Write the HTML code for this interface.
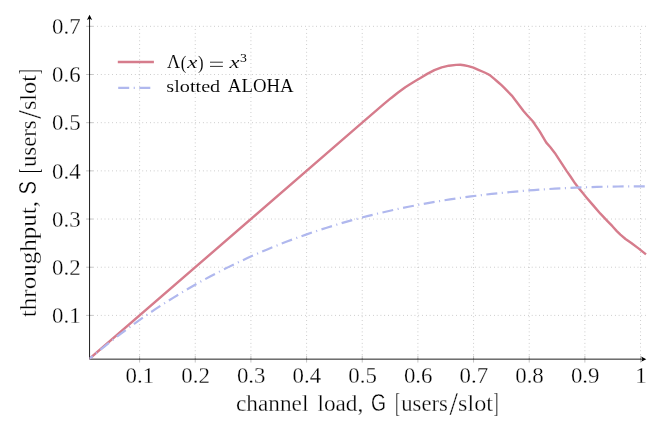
<!DOCTYPE html>
<html><head><meta charset="utf-8"><title>chart</title>
<style>html,body{margin:0;padding:0;background:#fff}svg{display:block;will-change:transform}text{font-kerning:none;stroke:#fff;stroke-width:0.28px;font-family:"Liberation Serif",serif;fill:#000}.sf{font-family:"Liberation Sans",sans-serif}.it{font-style:italic}</style>
</head><body>
<svg width="665" height="435" viewBox="0 0 665 435">
<rect width="665" height="435" fill="#fff"/>
<defs><clipPath id="c"><rect x="89.55" y="14.80" width="566.75" height="344.35"/></clipPath></defs>
<g stroke="#8e8e8e" stroke-width="0.66" stroke-dasharray="0.66 3.12" fill="none">
<path d="M139.60 358.70 V26.32"/>
<path d="M195.26 358.70 V26.32"/>
<path d="M250.92 358.70 V26.32"/>
<path d="M306.58 358.70 V26.32"/>
<path d="M362.24 358.70 V26.32"/>
<path d="M417.90 358.70 V26.32"/>
<path d="M473.56 358.70 V26.32"/>
<path d="M529.22 358.70 V26.32"/>
<path d="M584.88 358.70 V26.32"/>
<path d="M640.54 358.70 V26.32"/>
<path d="M89.55 315.40 H646.10"/>
<path d="M89.55 267.22 H646.10"/>
<path d="M89.55 219.04 H646.10"/>
<path d="M89.55 170.86 H646.10"/>
<path d="M89.55 122.68 H646.10"/>
<path d="M89.55 74.50 H646.10"/>
<path d="M89.55 26.32 H646.10"/>
</g>
<g stroke="#707070" stroke-width="0.42" fill="none">
<path d="M139.60 355.75 V362.55"/>
<path d="M195.26 355.75 V362.55"/>
<path d="M250.92 355.75 V362.55"/>
<path d="M306.58 355.75 V362.55"/>
<path d="M362.24 355.75 V362.55"/>
<path d="M417.90 355.75 V362.55"/>
<path d="M473.56 355.75 V362.55"/>
<path d="M529.22 355.75 V362.55"/>
<path d="M584.88 355.75 V362.55"/>
<path d="M640.54 355.75 V362.55"/>
<path d="M86.15 315.40 H92.95"/>
<path d="M86.15 267.22 H92.95"/>
<path d="M86.15 219.04 H92.95"/>
<path d="M86.15 170.86 H92.95"/>
<path d="M86.15 122.68 H92.95"/>
<path d="M86.15 74.50 H92.95"/>
<path d="M86.15 26.32 H92.95"/>
</g>
<g stroke="#000" stroke-width="0.88" fill="none">
<path d="M89.55 359.15 H644.30"/>
<path d="M89.55 359.15 V16.80"/>
</g>
<path d="M646.30 359.15 L641.10 356.55 L642.40 359.15 L641.10 361.75 Z" fill="#000"/>
<path d="M89.55 14.80 L86.95 20.00 L89.55 18.70 L92.15 20.00 Z" fill="#000"/>
<g clip-path="url(#c)" fill="none" stroke-linejoin="round">
<path d="M83.9 363.6 L362.2 122.7 L383.7 104.2 L390.9 98.2 L398.1 92.5 L405.3 87.2 L410.0 84.2 L415.3 81.0 L420.0 78.2 L427.2 73.9 L434.4 70.1 L441.7 67.4 L448.9 65.7 L456.1 64.9 L460.4 64.8 L464.0 65.3 L468.3 66.1 L473.4 67.7 L478.4 69.8 L483.5 72.0 L487.8 74.0 L490.7 75.8 L494.3 78.8 L497.9 82.0 L501.5 85.2 L504.3 87.9 L511.8 95.6 L518.6 104.5 L523.5 111.0 L527.2 115.2 L533.0 121.5 L535.5 125.3 L539.5 131.1 L543.2 137.4 L546.3 142.6 L550.4 147.3 L554.8 152.9 L559.2 159.7 L566.4 170.6 L570.5 176.5 L575.2 183.6 L578.8 188.2 L582.4 192.6 L586.4 197.4 L593.2 205.4 L600.4 213.7 L607.7 221.3 L612.4 226.2 L616.8 231.1 L620.4 234.7 L625.5 239.0 L631.3 243.0 L638.5 248.4 L646.0 254.4" stroke="#d67c8c" stroke-width="2.4"/>
<path d="M84.24 363.32 L88.42 359.74 L92.62 356.19 M96.07 353.30 L96.50 352.95 L96.92 352.60 M100.40 349.75 L104.67 346.29 L108.98 342.86 M112.52 340.08 L112.95 339.74 L113.38 339.41 M116.94 336.66 L121.32 333.32 L125.72 330.03 M129.34 327.36 L129.79 327.03 L130.23 326.71 M133.88 324.06 L138.35 320.87 L142.85 317.71 M146.55 315.15 L147.01 314.84 L147.46 314.53 M151.18 312.00 L155.76 308.94 L160.35 305.92 M164.13 303.48 L164.59 303.18 L165.06 302.89 M168.86 300.47 L173.52 297.56 L178.21 294.69 M182.07 292.37 L182.54 292.09 L183.01 291.80 M186.89 289.52 L191.64 286.75 L196.42 284.03 M200.35 281.83 L200.83 281.56 L201.31 281.30 M205.26 279.13 L210.10 276.52 L214.96 273.95 M218.95 271.88 L219.44 271.63 L219.93 271.38 M223.95 269.34 L228.87 266.89 L233.81 264.47 M237.87 262.53 L238.36 262.29 L238.86 262.06 M242.94 260.15 L247.93 257.85 L252.95 255.60 M257.07 253.78 L257.57 253.56 L258.08 253.34 M262.21 251.56 L267.27 249.42 L272.36 247.32 M276.53 245.63 L277.04 245.43 L277.55 245.23 M281.74 243.57 L286.87 241.59 L292.01 239.65 M296.23 238.09 L296.75 237.90 L297.27 237.71 M301.50 236.19 L306.69 234.36 L311.89 232.57 M316.16 231.14 L316.68 230.96 L317.20 230.79 M321.48 229.39 L326.72 227.72 L331.97 226.08 M336.27 224.77 L336.80 224.62 L337.33 224.46 M341.64 223.18 L346.92 221.66 L352.22 220.17 M356.56 218.98 L357.09 218.84 L357.62 218.69 M361.97 217.54 L367.30 216.16 L372.63 214.82 M377.00 213.74 L377.53 213.61 L378.07 213.49 M382.45 212.45 L387.81 211.21 L393.17 210.00 M397.57 209.05 L398.11 208.93 L398.64 208.81 M403.05 207.89 L408.44 206.78 L413.83 205.71 M418.25 204.86 L418.79 204.76 L419.33 204.66 M423.76 203.84 L429.17 202.86 L434.59 201.92 M439.02 201.18 L439.57 201.09 L440.11 201.00 M444.55 200.28 L449.99 199.43 L455.42 198.61 M459.88 197.96 L460.42 197.88 L460.97 197.81 M465.42 197.18 L470.87 196.45 L476.33 195.75 M480.80 195.19 L481.34 195.13 L481.89 195.06 M486.36 194.53 L491.82 193.91 L497.29 193.32 M501.76 192.85 L502.31 192.80 L502.86 192.74 M507.34 192.30 L512.81 191.78 L518.29 191.29 M522.77 190.91 L523.32 190.86 L523.87 190.82 M528.36 190.46 L533.84 190.04 L539.33 189.65 M543.82 189.34 L544.37 189.31 L544.91 189.27 M549.41 188.99 L554.90 188.66 L560.39 188.36 M564.88 188.13 L565.43 188.10 L565.98 188.08 M570.47 187.86 L575.97 187.62 L581.47 187.41 M585.96 187.25 L586.51 187.23 L587.06 187.21 M591.56 187.06 L597.06 186.91 L602.56 186.77 M607.05 186.67 L607.60 186.66 L608.15 186.65 M612.65 186.57 L618.15 186.48 L623.65 186.42 M628.15 186.38 L628.70 186.38 L629.25 186.37 M633.75 186.35 L639.25 186.34 L644.75 186.34" stroke="#b0b8ee" stroke-width="2.2"/>
</g>
<path d="M117.8 62.0 H153.9" stroke="#d67c8c" stroke-width="2.4" fill="none"/>
<path d="M117.8 87.9 H153.9" stroke="#b0b8ee" stroke-width="2.2" stroke-dasharray="11 4.5 1.1 4.5" stroke-dashoffset="-0.4" fill="none"/>
<text x="167.12" y="68.40" font-size="18.0" textLength="13.16" lengthAdjust="spacingAndGlyphs" style="stroke-width:0.08px">Λ</text>
<text x="180.66" y="68.50" font-size="19.4" textLength="5.58" lengthAdjust="spacingAndGlyphs" style="stroke-width:0.08px">(</text>
<text x="187.38" y="68.40" font-size="17.4" class="it" textLength="10.09" lengthAdjust="spacingAndGlyphs" style="stroke-width:0.08px">x</text>
<text x="198.06" y="68.50" font-size="19.4" textLength="5.58" lengthAdjust="spacingAndGlyphs" style="stroke-width:0.08px">)</text>
<path d="M210 62.2 H222.9 M210 66.4 H222.9" stroke="#000" stroke-width="0.8" fill="none"/>
<text x="229.57" y="68.40" font-size="17.4" class="it" textLength="9.99" lengthAdjust="spacingAndGlyphs" style="stroke-width:0.08px">x</text>
<text x="240.04" y="62.30" font-size="12.0" textLength="6.90" lengthAdjust="spacingAndGlyphs" style="stroke:none">3</text>
<text x="166.37" y="92.30" font-size="17.3" textLength="53.88" lengthAdjust="spacingAndGlyphs" style="stroke-width:0.08px">slotted</text>
<text x="227.82" y="92.30" font-size="18.2" textLength="65.82" lengthAdjust="spacingAndGlyphs" style="stroke-width:0.08px">ALOHA</text>
<text x="139.90" y="383.3" font-size="23.6" text-anchor="middle" textLength="28.6" lengthAdjust="spacingAndGlyphs">0.1</text>
<text x="195.56" y="383.3" font-size="23.6" text-anchor="middle" textLength="28.6" lengthAdjust="spacingAndGlyphs">0.2</text>
<text x="251.22" y="383.3" font-size="23.6" text-anchor="middle" textLength="28.6" lengthAdjust="spacingAndGlyphs">0.3</text>
<text x="306.88" y="383.3" font-size="23.6" text-anchor="middle" textLength="28.6" lengthAdjust="spacingAndGlyphs">0.4</text>
<text x="362.54" y="383.3" font-size="23.6" text-anchor="middle" textLength="28.6" lengthAdjust="spacingAndGlyphs">0.5</text>
<text x="418.20" y="383.3" font-size="23.6" text-anchor="middle" textLength="28.6" lengthAdjust="spacingAndGlyphs">0.6</text>
<text x="473.86" y="383.3" font-size="23.6" text-anchor="middle" textLength="28.6" lengthAdjust="spacingAndGlyphs">0.7</text>
<text x="529.52" y="383.3" font-size="23.6" text-anchor="middle" textLength="28.6" lengthAdjust="spacingAndGlyphs">0.8</text>
<text x="585.18" y="383.3" font-size="23.6" text-anchor="middle" textLength="28.6" lengthAdjust="spacingAndGlyphs">0.9</text>
<text x="640.84" y="383.3" font-size="23.6" text-anchor="middle">1</text>
<text x="80.7" y="323.20" font-size="23.6" text-anchor="end" textLength="28.6" lengthAdjust="spacingAndGlyphs">0.1</text>
<text x="80.7" y="275.02" font-size="23.6" text-anchor="end" textLength="28.6" lengthAdjust="spacingAndGlyphs">0.2</text>
<text x="80.7" y="226.84" font-size="23.6" text-anchor="end" textLength="28.6" lengthAdjust="spacingAndGlyphs">0.3</text>
<text x="80.7" y="178.66" font-size="23.6" text-anchor="end" textLength="28.6" lengthAdjust="spacingAndGlyphs">0.4</text>
<text x="80.7" y="130.48" font-size="23.6" text-anchor="end" textLength="28.6" lengthAdjust="spacingAndGlyphs">0.5</text>
<text x="80.7" y="82.30" font-size="23.6" text-anchor="end" textLength="28.6" lengthAdjust="spacingAndGlyphs">0.6</text>
<text x="80.7" y="34.12" font-size="23.6" text-anchor="end" textLength="28.6" lengthAdjust="spacingAndGlyphs">0.7</text>
<text x="235.91" y="410.50" font-size="22.4" textLength="72.45" lengthAdjust="spacingAndGlyphs">channel</text>
<text x="317.43" y="410.50" font-size="22.4" textLength="45.93" lengthAdjust="spacingAndGlyphs">load,</text>
<text x="371.03" y="410.60" font-size="23.5" class="sf" textLength="15.01" lengthAdjust="spacingAndGlyphs">G</text>
<text x="395.30" y="412.20" font-size="27.2" textLength="4.49" lengthAdjust="spacingAndGlyphs">[</text>
<text x="401.20" y="410.50" font-size="22.4" textLength="46.72" lengthAdjust="spacingAndGlyphs">users</text>
<text x="449.40" y="415.30" font-size="32.7" textLength="8.40" lengthAdjust="spacingAndGlyphs">/</text>
<text x="458.11" y="410.50" font-size="22.4" textLength="34.93" lengthAdjust="spacingAndGlyphs">slot</text>
<text x="493.80" y="412.20" font-size="27.2" textLength="4.64" lengthAdjust="spacingAndGlyphs">]</text>
<g transform="translate(35.8 317.5) rotate(-90)">
<text x="0.36" y="0.00" font-size="22.4" textLength="116.12" lengthAdjust="spacingAndGlyphs">throughput,</text>
<text x="122.98" y="0.10" font-size="23.5" class="sf" textLength="13.56" lengthAdjust="spacingAndGlyphs">S</text>
<text x="144.40" y="1.70" font-size="27.2" textLength="4.49" lengthAdjust="spacingAndGlyphs">[</text>
<text x="150.40" y="0.00" font-size="22.4" textLength="46.82" lengthAdjust="spacingAndGlyphs">users</text>
<text x="198.70" y="4.80" font-size="32.7" textLength="8.40" lengthAdjust="spacingAndGlyphs">/</text>
<text x="207.41" y="0.00" font-size="22.4" textLength="35.04" lengthAdjust="spacingAndGlyphs">slot</text>
<text x="243.23" y="1.70" font-size="27.2" textLength="5.23" lengthAdjust="spacingAndGlyphs">]</text>
</g>
</svg></body></html>
